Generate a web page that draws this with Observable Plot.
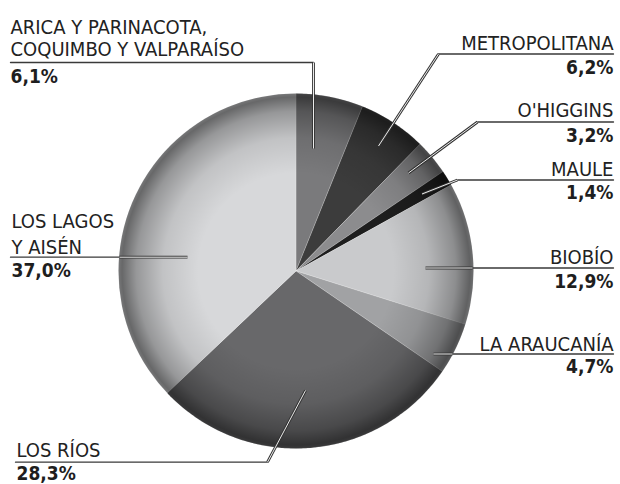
<!DOCTYPE html>
<html>
<head>
<meta charset="utf-8">
<script src="https://cdn.jsdelivr.net/npm/d3@7"></script>
<script src="https://cdn.jsdelivr.net/npm/@observablehq/plot@0.6"></script>
<style>
  html, body { margin: 0; padding: 0; background: #fff; }
  #chart svg { display: block; }
</style>
</head>
<body>
<div id="chart"></div>
<script>
// ---- data ----
const regions = ["ARICA Y PARINACOTA,\nCOQUIMBO Y VALPARAÍSO", "METROPOLITANA", "O'HIGGINS", "MAULE", "BIOBÍO", "LA ARAUCANÍA", "LOS RÍOS", "LOS LAGOS\nY AISÉN"];
const shares = [6.1, 6.2, 3.2, 1.4, 12.9, 4.7, 28.3, 37.0];
const valueLabels = ["6,1%", "6,2%", "3,2%", "1,4%", "12,9%", "4,7%", "28,3%", "37,0%"];

// ---- style ----
const palette = ["#7a7a7c", "#3c3c3c", "#8c8c8e", "#1e1e1e", "#c9cacc", "#a1a2a4", "#68686a", "#d7d8da"];
const W = 620, H = 484;
const CX = 295.5, CY = 270.5, R = 177.5;
const FONT = "'Liberation Sans Narrow', 'Arial Narrow', 'DejaVu Sans Condensed', sans-serif";

// ---- label layout (pixels) ----
const labelLayout = [
  {x: 10,  yName: 55,    yValue: 82,    anchor: "start", lh: 22},
  {x: 613, yName: 49.5,  yValue: 73,    anchor: "end",   lh: 22},
  {x: 613, yName: 116.7, yValue: 141.7, anchor: "end",   lh: 22},
  {x: 613, yName: 175,   yValue: 198.3, anchor: "end",   lh: 22},
  {x: 613, yName: 263.3, yValue: 287.3, anchor: "end",   lh: 22},
  {x: 613, yName: 350,   yValue: 372.7, anchor: "end",   lh: 22},
  {x: 16,  yName: 456.5, yValue: 479,   anchor: "start", lh: 22},
  {x: 11,  yName: 253,   yValue: 276,   anchor: "start", lh: 25.8}
];
const underlines = [
  [[10, 62], [313, 62]],
  [[438, 53.5], [613, 53.5]],
  [[477, 121.5], [613, 121.5]],
  [[457, 179.5], [613, 179.5]],
  [[472, 267.5], [613, 267.5]],
  [[452, 353.5], [613, 353.5]],
  [[15, 461.7], [267, 461.7]],
  [[10, 256.7], [119, 256.7]]
];
const legs = [
  [[313, 62], [313, 148]],
  [[438, 53.5], [378, 145.5]],
  [[477, 121.5], [408, 172.5]],
  [[457, 179.5], [421.5, 193.5]],
  [[472, 267.5], [425, 267.5]],
  [[452, 353.5], [433, 353.5]],
  [[267, 461.7], [305, 390]],
  [[119, 256.7], [187, 256.7]]
];

// ---- pie geometry from data ----
const arcs = d3.pie().sort(null).value(d => d)(shares);
const slicePts = [];
arcs.forEach((a, i) => {
  slicePts.push({region: regions[i], x: CX, y: CY});
  const n = Math.max(2, Math.ceil((a.endAngle - a.startAngle) / (Math.PI / 360)));
  for (let k = 0; k <= n; k++) {
    const t = a.startAngle + (a.endAngle - a.startAngle) * k / n;
    slicePts.push({region: regions[i], x: CX + R * Math.sin(t), y: CY - R * Math.cos(t)});
  }
  slicePts.push({region: regions[i], x: CX, y: CY});
});

const segRows = (segs) => segs.flatMap((s, i) => s.map(p => ({id: i, x: p[0], y: p[1]})));
const nameRows = regions.map((r, i) => ({...labelLayout[i], text: r}));
const valueRows = valueLabels.map((v, i) => ({...labelLayout[i], text: v}));

const marks = [
  Plot.line(slicePts, {x: "x", y: "y", z: "region", fill: "region", stroke: "#ffffff", strokeOpacity: 0.35, strokeWidth: 0.6, curve: "linear"}),
  Plot.dot([{x: CX, y: CY}], {x: "x", y: "y", r: R, fill: "url(#pieShade)", stroke: "none"}),
  Plot.line(segRows(underlines), {x: "x", y: "y", z: "id", stroke: "#3a3a3a", strokeWidth: 1.3}),
  Plot.line(segRows(legs), {x: "x", y: "y", z: "id", stroke: "#333333", strokeWidth: 2.8, strokeLinecap: "butt"}),
  Plot.line(segRows(legs), {x: "x", y: "y", z: "id", stroke: "#ffffff", strokeWidth: 0.9, strokeLinecap: "butt"})
];
for (const anchor of ["start", "end"]) {
  for (const lh of [...new Set(labelLayout.map(d => d.lh))]) {
    const rows = nameRows.filter(d => d.anchor === anchor && d.lh === lh);
    if (!rows.length) continue;
    marks.push(Plot.text(rows, {x: "x", y: "yName", text: "text", textAnchor: anchor, lineAnchor: "bottom",
      lineHeight: lh / 20, fontSize: 20, fontFamily: FONT, fill: "#222"}));
  }
  const vrows = valueRows.filter(d => d.anchor === anchor);
  marks.push(Plot.text(vrows, {x: "x", y: "yValue", text: "text", textAnchor: anchor, lineAnchor: "bottom",
    fontSize: 19, fontWeight: "bold", fontFamily: FONT, fill: "#1e1e1e"}));
}

const svg = Plot.plot({
  width: W, height: H,
  margin: 0,
  x: {domain: [0, W], range: [0, W], axis: null},
  y: {domain: [0, H], range: [0, H], axis: null},
  color: {domain: regions, range: palette},
  style: {background: "#fff", fontFamily: FONT},
  marks
});

const defs = d3.select(svg).insert("defs", ":first-child");
const g = defs.append("radialGradient").attr("id", "pieShade").attr("cx", "50%").attr("cy", "50%").attr("r", "50%");
[[0, 0], [0.55, 0], [0.75, 0.1], [0.9, 0.3], [0.98, 0.52], [1, 0.45]].forEach(([o, a]) =>
  g.append("stop").attr("offset", o).attr("stop-color", "#000").attr("stop-opacity", a));

document.getElementById("chart").appendChild(svg);
</script>
</body>
</html>
